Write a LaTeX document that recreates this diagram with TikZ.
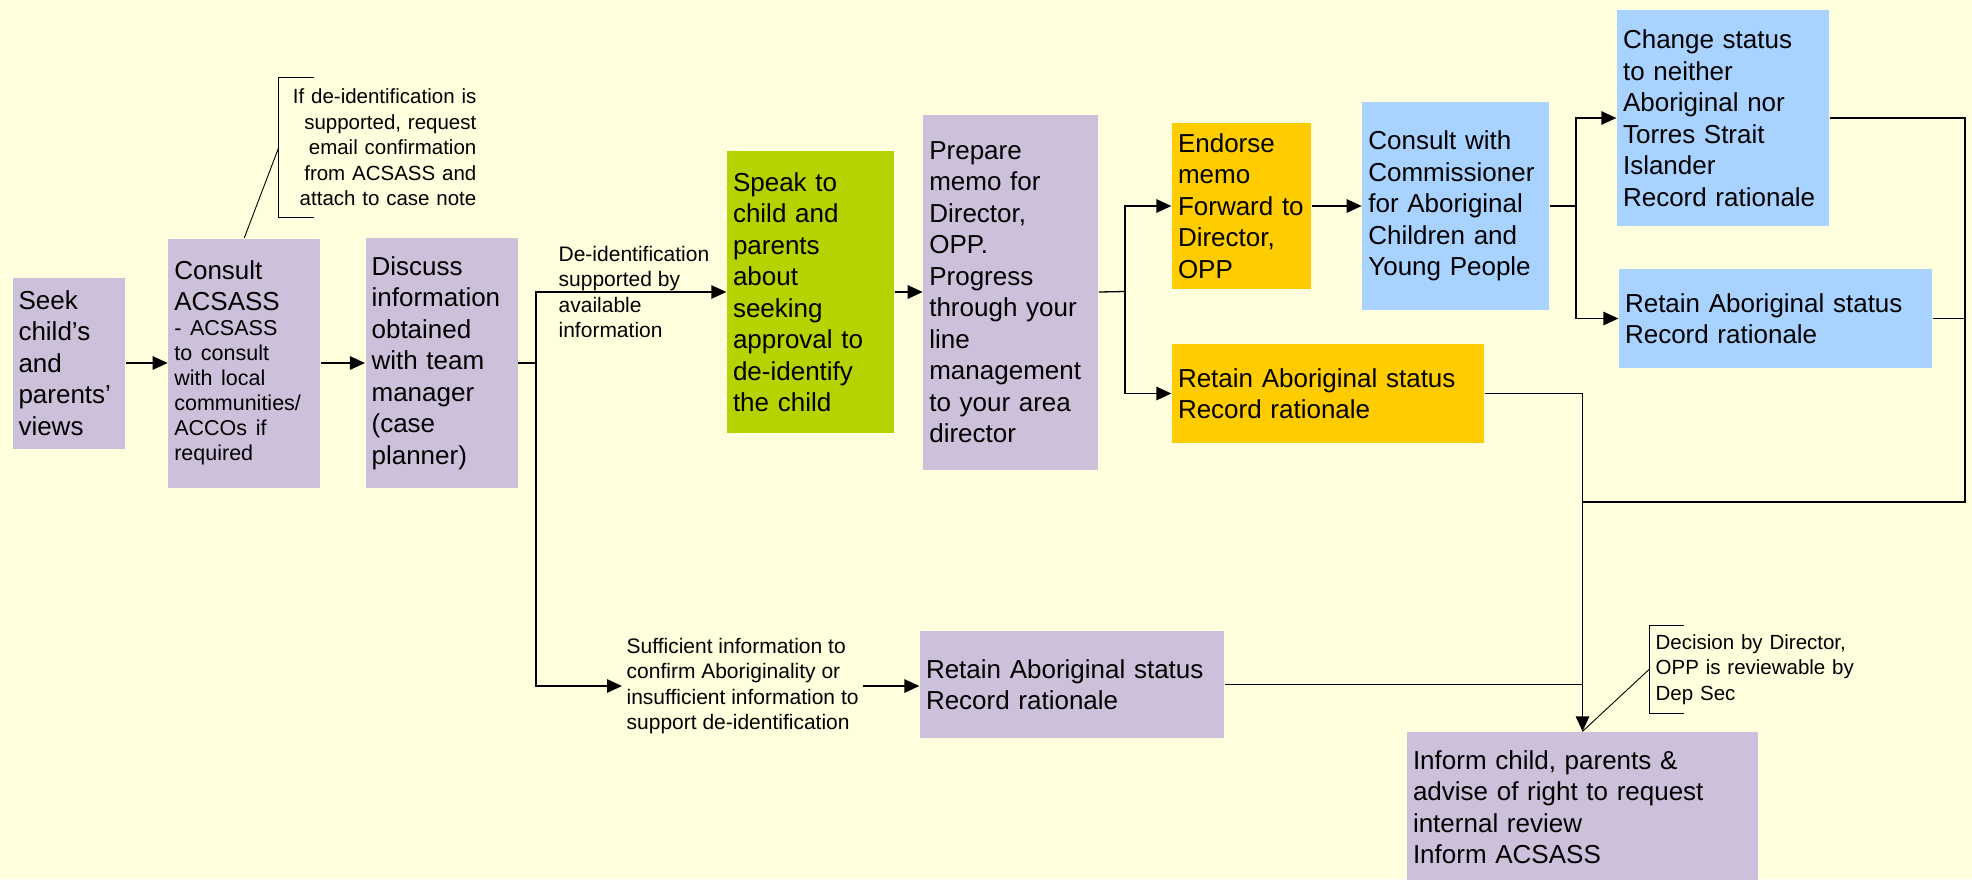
\documentclass[tikz,border=0pt]{standalone}
\usepackage{fontspec}
\setmainfont{Liberation Sans}
\usetikzlibrary{positioning}
\usetikzlibrary{arrows.meta}
\definecolor{paleYellow}{HTML}{FFFFDE}
\definecolor{softLilac}{HTML}{CCC0DA}
\definecolor{limeGreen}{HTML}{B5D300}
\definecolor{amberOrange}{HTML}{FFCC00}
\definecolor{skyBlue}{HTML}{A8D2FF}
\tikzset{every picture/.style={line width=1.3pt, >={Triangle[length=15pt, width=13.5pt]}}}
\tikzset{
  flowbox/.style={inner xsep=6pt, inner ysep=0pt, align=left, font=\fontsize{26}{31.5}\selectfont},
  lilacbox/.style={flowbox, fill=softLilac},
  greenbox/.style={flowbox, fill=limeGreen},
  orangebox/.style={flowbox, fill=amberOrange},
  bluebox/.style={flowbox, fill=skyBlue},
  condlabel/.style={inner xsep=4pt, inner ysep=0pt, align=left, font=\fontsize{21}{25.5}\selectfont},
  notelabel/.style={inner xsep=6pt, inner ysep=0pt, font=\fontsize{20.5}{25.5}\selectfont},
  noteline/.style={line width=0.9pt}
}

\begin{document}
\begin{tikzpicture}[x=1pt, y=-1pt]
        \fill[paleYellow] (0,0) rectangle (1972,879);
        \useasboundingbox (0,0) rectangle (1972,879);
        % main chain
        \node[lilacbox, text width=100.5pt, minimum height=171pt] (seek) at (68.75,363) {Seek\\child’s\\and\\parents’\\views};
        \node[lilacbox, text width=140pt, minimum height=249pt, right=42pt of seek] (consult) {Consult\\ACSASS\par
            {\fontsize{21.5}{25}\selectfont - ACSASS\\to consult\\with local\\communities/\\ACCOs if\\required\par}};
        \node[lilacbox, text width=140pt, minimum height=250pt, right=44pt of consult] (discuss) {Discuss\\information\\obtained\\with team\\manager\\(case\\planner)};
        \node[greenbox, text width=155pt, minimum height=282pt] (green) at (810.5,292) {Speak to\\child and\\parents\\about\\seeking\\approval to\\de-identify\\the child};
        \node[lilacbox, text width=163pt, minimum height=355pt, right=28pt of green] (prepare) {Prepare\\memo for\\Director,\\OPP.\\Progress\\through your\\line\\management\\to your area\\director};
        \node[orangebox, text width=127pt, minimum height=166pt] (endorse) at (1241.5,206) {Endorse\\memo\\Forward to\\Director,\\OPP};
        \node[bluebox, text width=175pt, minimum height=208pt, right=50pt of endorse] (commissioner) {Consult with\\Commissioner\\for Aboriginal\\Children and\\Young People};
        \node[orangebox, text width=300pt, minimum height=99pt] (retainB) at (1328,393.5) {Retain Aboriginal status\\Record rationale};
        \node[bluebox, text width=200pt, minimum height=216pt] (change) at (1723,118) {Change status\\to neither\\Aboriginal nor\\Torres Strait\\Islander\\Record rationale};
        \node[bluebox, text width=301pt, minimum height=99pt] (retainA) at (1775.5,318.5) {Retain Aboriginal status\\Record rationale};
        \node[lilacbox, text width=292pt, minimum height=107pt] (retainC) at (1072,684.5) {Retain Aboriginal status\\Record rationale};
        \node[lilacbox, text width=339pt, minimum height=150pt] (inform) at (1582.5,807) {Inform child, parents \&\\advise of right to request\\internal review\\Inform ACSASS};
        % branch labels
        \node[condlabel, anchor=west] (deidnote) at (554,292) {De-identification\\supported by\\available\\information};
        \node[condlabel, anchor=west] (suffnote) at (622,686) {Sufficient information to\\confirm Aboriginality or\\insufficient information to\\support de-identification};
        % callouts
        \node[notelabel, align=right, text width=191pt, minimum height=139pt, anchor=east] (note1) at (483,147.5) {If de-identification is\\supported, request\\email confirmation\\from ACSASS and\\attach to case note};
        \node[notelabel, align=left, text width=220pt, minimum height=87pt, anchor=west] (note2) at (1649,669.5) {Decision by Director,\\OPP is reviewable by\\Dep Sec};
        \draw[noteline] ([xshift=35pt]note1.north west) -- (note1.north west) -- (note1.south west) -- ([xshift=35pt]note1.south west);
        \draw[noteline] (consult.north) -- (note1.west);
        \draw[noteline] ([xshift=35pt]note2.north west) -- (note2.north west) -- (note2.south west) -- ([xshift=35pt]note2.south west);
        \draw[noteline] (inform.north) -- (note2.west);
        % connectors
        \coordinate (fork1) at (536,363);
        \coordinate (fork2) at (1125,291.5);
        \coordinate (fork3) at (1576,206);
        \coordinate (collect) at (1965,502);
        \draw[->] (seek.east) -- (seek.east -| consult.west);
        \draw[->] (consult.east) -- (consult.east -| discuss.west);
        \draw (discuss.east) -- (fork1);
        \draw[->] (fork1) |- (green.west);
        \draw[->] (fork1) |- (suffnote.west);
        \draw[->] (suffnote.east) -- (suffnote.east -| retainC.west);
        \draw[->] (green.east) -- (green.east -| prepare.west);
        \draw (prepare.east) -- (fork2);
        \draw[->] (fork2) |- (endorse.west);
        \draw[->] (fork2) |- (retainB.west);
        \draw[->] (endorse.east) -- (endorse.east -| commissioner.west);
        \draw (commissioner.east) -- (fork3);
        \draw[->] (fork3) |- (change.west);
        \draw[->] (fork3) |- (retainA.west);
        \draw (change.east) -| (collect) -- (collect -| inform.north);
        \draw (retainA.east) -- (retainA.east -| collect);
        \draw (retainC.east) -- (retainC.east -| inform.north);
        \draw[->] (retainB.east) -| (inform.north);
    \end{tikzpicture}
\end{document}
